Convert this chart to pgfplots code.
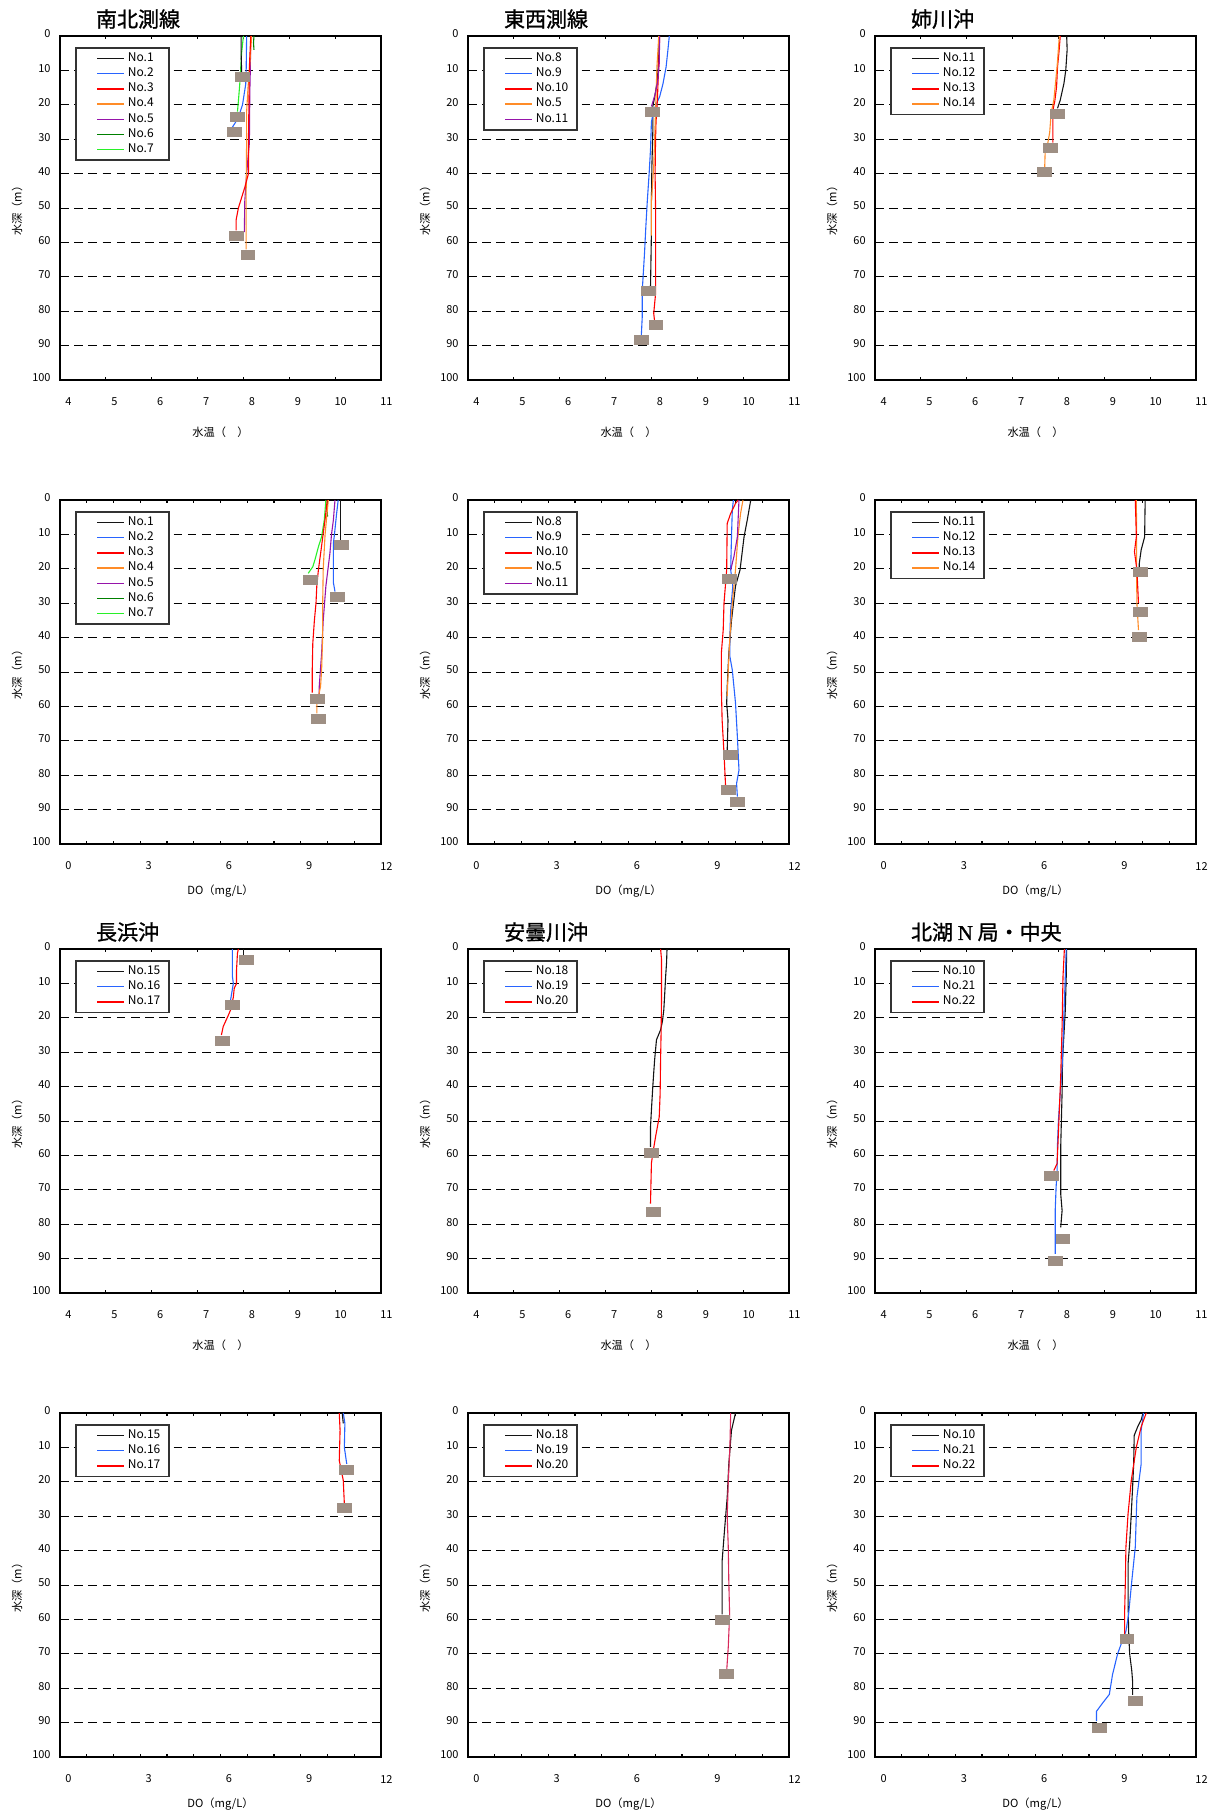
\documentclass[border=0pt]{standalone}
\usepackage{fontspec}
\setmainfont{Noto Sans CJK JP}
\newfontfamily\titlefont[FakeBold=1.2]{Noto Sans CJK JP}
\newfontfamily\serifN[FakeBold=1.2]{Liberation Serif}
\usepackage{pgfplots}
\pgfplotsset{compat=1.18}
\newcommand\fs[1]{\fontsize{#1}{#1}\selectfont}
\definecolor{cblack}{RGB}{20,20,20}
\definecolor{cblue}{RGB}{40,100,255}
\definecolor{cred}{RGB}{255,0,0}
\definecolor{corange}{RGB}{255,140,40}
\definecolor{cpurple}{RGB}{150,20,170}
\definecolor{cgreen}{RGB}{0,128,0}
\definecolor{clime}{RGB}{40,240,40}
\definecolor{ccrimson}{RGB}{215,40,90}
\definecolor{cmark}{RGB}{158,143,132}
\pgfplotsset{
  prof/.style={
    scale only axis, width=160.5pt, height=172pt,
    ymin=0, ymax=100, y dir=reverse, ytick={0,10,...,100},
    ymajorgrids, grid style={dash pattern=on 4.3pt off 2.8pt, line width=0.5pt, black},
    ytick style={draw=none},
    xtick style={black, line width=0.6pt},
    tick align=inside, major tick length=1.6pt, minor tick length=1.6pt,
    axis line style={line width=0.8pt, black},
    clip=false,
    /pgf/number format/assume math mode=true,
    tick label style={font=\fs{5.5}, inner sep=0pt},
    xticklabel style={anchor=east, xshift=6pt, yshift=-11pt},
    yticklabel style={anchor=east, xshift=-4.5pt, yshift=1pt},
    ylabel={水深（m）},
    every axis y label/.style={at={(axis description cs:0,0.5)}, xshift=-21.5pt, rotate=90, anchor=center, font=\fs{5.6}},
    legend cell align=left,
    legend image code/.code={\path (-10.5pt,0pt) (15pt,0pt); \draw[##1, line width=0.7pt] (0pt,0pt) -- (13.5pt,0pt);},
    legend style={at={(axis description cs:0,1)}, anchor=north west, xshift=7.5pt, yshift=-5.5pt,
      draw=black!80, line width=0.8pt, inner xsep=0pt, inner ysep=1.5pt, column sep=0pt, row sep=0pt,
      font=\fs{6},
      nodes={inner sep=0pt, text height=5.2pt, text depth=2.4pt, text width=20.5pt, align=left}},
    every axis plot/.append style={line width=0.55pt},
  },
  temp/.style={prof, xmin=4, xmax=11, xtick={4,...,11}, xlabel={水温（　）},
    every axis x label/.style={at={(axis description cs:0.5,0)}, yshift=-26pt, anchor=center, font=\fs{5.6}}},
  do/.style={prof, xmin=0, xmax=12, xtick={0,3,...,12}, minor xtick={1,2,4,5,7,8,10,11}, xlabel={DO（mg/L）},
    every axis x label/.style={at={(axis description cs:0.5,0)}, yshift=-23.5pt, anchor=center, font=\fs{5.6}}},
  bmark/.style={only marks, color=cmark, mark=square*, mark size=2.25pt, mark options={xscale=1.55, fill=cmark, draw=cmark, line width=0pt}, forget plot},
}
\newcommand\ttl[1]{\node[anchor=west, xshift=14.5pt, yshift=8.5pt, font=\titlefont\fs{10.5}] at (axis description cs:0,1) {#1};}
\begin{document}
\begin{tikzpicture}
\useasboundingbox (0pt,0pt) rectangle (608pt,-906pt);
% ---------------- Row 1: temperature ----------------
\begin{axis}[temp, at={(30pt,-18pt)}, anchor=north west]
\ttl{南北測線}
\addlegendimage{cblack}\addlegendentry{No.1}
\addlegendimage{cblue}\addlegendentry{No.2}
\addlegendimage{cred}\addlegendentry{No.3}
\addlegendimage{corange}\addlegendentry{No.4}
\addlegendimage{cpurple}\addlegendentry{No.5}
\addlegendimage{cgreen}\addlegendentry{No.6}
\addlegendimage{clime}\addlegendentry{No.7}
\addplot[cgreen, forget plot] coordinates {(8.23,0)(8.22,2)(8.23,4)};
\addplot[clime, forget plot] coordinates {(8.00,0)(7.96,5)(7.92,14)(7.89,19)(7.87,22)};
\addplot[cpurple, forget plot] coordinates {(8.16,0)(8.15,10)(8.14,16)(8.13,31)(8.07,40)(8.03,48)(8.02,57)};
\addplot[corange, forget plot] coordinates {(8.18,0)(8.14,8)(8.10,15)(8.07,22)(8.07,30)(8.06,45)(8.06,62)};
\addplot[cred, forget plot] coordinates {(8.16,0)(8.13,9)(8.12,20)(8.11,30)(8.11,40)(8.03,44)(7.89,50)(7.84,53.5)(7.84,56.5)};
\addplot[cblue, forget plot] coordinates {(8.07,0)(8.06,10)(8.05,14)(7.98,20)(7.88,24)(7.76,26.5)};
\addplot[cblack, forget plot] coordinates {(7.95,0)(7.95,5)(7.96,10)(7.97,12)};
\addplot[bmark] coordinates {(7.98,12)(7.87,23.5)(7.80,28)(7.84,58)(8.10,63.7)};
\end{axis}
\begin{axis}[temp, at={(234pt,-18pt)}, anchor=north west]
\ttl{東西測線}
\addlegendimage{cblack}\addlegendentry{No.8}
\addlegendimage{cblue}\addlegendentry{No.9}
\addlegendimage{cred}\addlegendentry{No.10}
\addlegendimage{corange}\addlegendentry{No.5}
\addlegendimage{cpurple}\addlegendentry{No.11}
\addplot[cblack, forget plot] coordinates {(8.17,0)(8.16,6)(8.13,12.8)(8.08,17)(8.03,20.5)(8.03,28)(8.01,38)(8.00,48)(8.00,57)(7.99,65)(7.98,73)};
\addplot[cblue, forget plot] coordinates {(8.39,0)(8.36,4)(8.32,9)(8.25,14)(8.18,17.6)(8.05,21.5)(8.00,25)(7.98,33)(7.95,40)(7.91,48)(7.88,55)(7.85,63)(7.80,74)(7.80,81.6)(7.78,87)};
\addplot[cred, forget plot] coordinates {(8.18,0)(8.16,8)(8.13,18.6)(8.10,25)(8.09,30)(8.08,40)(8.09,50)(8.09,60)(8.09,75)(8.05,80.6)(8.07,83)};
\addplot[corange, forget plot] coordinates {(8.16,0)(8.12,9)(8.09,21.5)(8.07,30)(8.05,38)(8.02,44)(8.00,48)(8.00,58)};
\addplot[cpurple, forget plot] coordinates {(8.18,0)(8.17,8)(8.14,12.8)(8.08,17)(8.00,20.5)};
\addplot[bmark] coordinates {(8.02,22)(7.94,74)(8.10,84)(7.78,88.4)};
\end{axis}
\begin{axis}[temp, at={(437.5pt,-18pt)}, anchor=north west]
\ttl{姉川沖}
\addlegendimage{cblack}\addlegendentry{No.11}
\addlegendimage{cblue}\addlegendentry{No.12}
\addlegendimage{cred}\addlegendentry{No.13}
\addlegendimage{corange}\addlegendentry{No.14}
\addplot[cblack, forget plot] coordinates {(8.18,0)(8.19,4)(8.16,10)(8.12,13.8)(8.04,18.6)(7.98,21)};
\addplot[cred, forget plot] coordinates {(8.04,0)(8.01,5)(7.98,9)(7.96,14.7)(7.92,19)(7.88,21.5)(7.88,31)};
\addplot[corange, forget plot] coordinates {(8.02,0)(7.97,9)(7.90,18.6)(7.84,22.5)(7.81,28)(7.77,31)(7.71,34)(7.70,38.5)};
\addplot[bmark] coordinates {(7.99,22.6)(7.82,32.6)(7.69,39.6)};
\end{axis}
% ---------------- Row 2: DO ----------------
\begin{axis}[do, at={(30pt,-250pt)}, anchor=north west]
\addlegendimage{cblack}\addlegendentry{No.1}
\addlegendimage{cblue}\addlegendentry{No.2}
\addlegendimage{cred}\addlegendentry{No.3}
\addlegendimage{corange}\addlegendentry{No.4}
\addlegendimage{cpurple}\addlegendentry{No.5}
\addlegendimage{cgreen}\addlegendentry{No.6}
\addlegendimage{clime}\addlegendentry{No.7}
\addplot[cgreen, forget plot] coordinates {(10.00,0)(9.99,2.5)(10.00,4.8)};
\addplot[clime, forget plot] coordinates {(9.94,0)(9.88,5.8)(9.78,10.7)(9.66,13.6)(9.53,17.4)(9.45,19.4)(9.28,21.3)};
\addplot[cpurple, forget plot] coordinates {(10.28,0)(10.22,5.8)(10.15,10)(10.09,15.5)(9.94,25)(9.84,35)(9.78,44.6)(9.69,54.3)(9.69,57)};
\addplot[corange, forget plot] coordinates {(10.03,0)(9.97,5)(9.91,10)(9.84,20)(9.82,30)(9.82,39.7)(9.78,49.4)(9.74,54.3)(9.60,59)(9.60,62)};
\addplot[cred, forget plot] coordinates {(9.99,0)(9.92,5)(9.84,9.7)(9.76,14.5)(9.66,20.3)(9.60,25)(9.57,30)(9.51,35)(9.45,41.7)(9.43,49.4)(9.43,56)};
\addplot[cblue, forget plot] coordinates {(10.40,0)(10.34,4)(10.26,10)(10.22,12.6)(10.22,24)(10.28,26.6)};
\addplot[cblack, forget plot] coordinates {(10.47,0)(10.47,12)};
\addplot[bmark] coordinates {(10.53,13)(9.35,23.3)(10.38,28.3)(9.63,57.8)(9.66,63.6)};
\end{axis}
\begin{axis}[do, at={(234pt,-250pt)}, anchor=north west]
\addlegendimage{cblack}\addlegendentry{No.8}
\addlegendimage{cblue}\addlegendentry{No.9}
\addlegendimage{cred}\addlegendentry{No.10}
\addlegendimage{corange}\addlegendentry{No.5}
\addlegendimage{cpurple}\addlegendentry{No.11}
\addplot[cblack, forget plot] coordinates {(10.57,0)(10.44,5.8)(10.32,10.7)(10.17,20.3)(10.00,25)(9.85,35)(9.75,44.6)(9.69,54.3)(9.67,59)(9.72,64)(9.69,72.7)};
\addplot[cblue, forget plot] coordinates {(9.92,0)(9.88,3)(9.85,10.7)(9.82,20.3)(9.90,25)(9.82,32)(9.79,39.7)(9.79,45.5)(9.88,49.4)(10.00,59)(10.07,68.8)(10.13,78.5)(10.04,82.4)(10.07,86.2)};
\addplot[cred, forget plot] coordinates {(10.10,0)(10.00,1)(9.82,3.9)(9.69,6.8)(9.67,20.3)(9.57,30)(9.54,37.8)(9.47,44.6)(9.47,54.3)(9.50,64)(9.57,73.6)(9.63,83.3)};
\addplot[corange, forget plot] coordinates {(10.28,0)(10.19,3.9)(10.09,10.7)(10.00,20.3)(9.88,30)(9.79,39.7)(9.73,49.4)(9.69,57)};
\addplot[cpurple, forget plot] coordinates {(10.13,0)(10.07,10.7)(9.94,16.5)(9.82,20.3)};
\addplot[bmark] coordinates {(9.79,23)(9.82,74.1)(9.73,84.3)(10.07,87.7)};
\end{axis}
\begin{axis}[do, at={(437.5pt,-250pt)}, anchor=north west]
\addlegendimage{cblack}\addlegendentry{No.11}
\addlegendimage{cblue}\addlegendentry{No.12}
\addlegendimage{cred}\addlegendentry{No.13}
\addlegendimage{corange}\addlegendentry{No.14}
\addplot[cblack, forget plot] coordinates {(10.10,0)(10.09,5)(10.08,10.7)(9.95,14.5)(9.88,18.4)(9.88,20.3)};
\addplot[corange, forget plot] coordinates {(9.77,0)(9.78,10.7)(9.78,20.3)(9.79,30)(9.85,37.8)};
\addplot[cred, forget plot] coordinates {(9.73,0)(9.75,5)(9.77,10.7)(9.70,15)(9.79,20.3)(9.82,25)(9.85,30)};
\addplot[bmark] coordinates {(9.92,20.8)(9.92,32.5)(9.88,39.7)};
\end{axis}
% ---------------- Row 3: temperature ----------------
\begin{axis}[temp, at={(30pt,-474.5pt)}, anchor=north west]
\ttl{長浜沖}
\addlegendimage{cblack}\addlegendentry{No.15}
\addlegendimage{cblue}\addlegendentry{No.16}
\addlegendimage{cred}\addlegendentry{No.17}
\addplot[cblack, forget plot] coordinates {(8.01,0)(8.01,2.5)};
\addplot[cblue, forget plot] coordinates {(7.76,0)(7.76,8)(7.78,10)(7.72,14.8)};
\addplot[cred, forget plot] coordinates {(7.89,0)(7.87,1.2)(7.85,6)(7.85,10)(7.80,11.4)(7.78,14)(7.72,17.7)(7.66,19.6)(7.56,22.5)(7.52,25)};
\addplot[bmark] coordinates {(8.06,3.3)(7.76,16.2)(7.55,26.6)};
\end{axis}
\begin{axis}[temp, at={(234pt,-474.5pt)}, anchor=north west]
\ttl{安曇川沖}
\addlegendimage{cblack}\addlegendentry{No.18}
\addlegendimage{cblue}\addlegendentry{No.19}
\addlegendimage{cred}\addlegendentry{No.20}
\addplot[cblack, forget plot] coordinates {(8.34,0)(8.33,4)(8.31,8)(8.29,13)(8.27,17.7)(8.24,21)(8.20,23.5)(8.11,26.4)(8.07,32.2)(8.05,36)(8.03,40)(8.00,46.8)(7.98,51.7)(7.98,57.5)};
\addplot[cred, forget plot] coordinates {(8.20,0)(8.22,3)(8.22,14.5)(8.21,25)(8.20,32)(8.19,42)(8.17,48.8)(8.09,54.6)(8.03,59.4)(8.00,62.3)(7.99,68)(7.98,74)};
\addplot[bmark] coordinates {(8.00,59.4)(8.04,76.5)};
\end{axis}
\begin{axis}[temp, at={(437.5pt,-474.5pt)}, anchor=north west]
\node[anchor=west, xshift=14.5pt, yshift=8.5pt, font=\titlefont\fs{10.5}] at (axis description cs:0,1) {北湖 {\serifN N} 局・中央};
\addlegendimage{cblack}\addlegendentry{No.10}
\addlegendimage{cblue}\addlegendentry{No.21}
\addlegendimage{cred}\addlegendentry{No.22}
\addplot[cblack, forget plot] coordinates {(8.18,0)(8.17,8)(8.15,17.7)(8.13,22.5)(8.09,32)(8.08,41.7)(8.05,57.5)(8.05,71.2)(8.08,76)(8.05,80.9)};
\addplot[cblue, forget plot] coordinates {(8.17,0)(8.15,8)(8.11,22.5)(8.09,32)(8.05,40)(8.00,49.8)(7.98,56.6)(7.97,65.3)(7.95,69)(7.93,76)(7.93,88.6)};
\addplot[cred, forget plot] coordinates {(8.13,0)(8.10,8)(8.08,22.5)(8.05,37)(8.02,46.8)(7.99,56.6)(7.97,62.4)(7.90,64.4)};
\addplot[bmark] coordinates {(7.84,66)(8.10,84.3)(7.93,90.7)};
\end{axis}
% ---------------- Row 4: DO ----------------
\begin{axis}[do, at={(30pt,-706.5pt)}, anchor=north west]
\addlegendimage{cblack}\addlegendentry{No.15}
\addlegendimage{cblue}\addlegendentry{No.16}
\addlegendimage{cred}\addlegendentry{No.17}
\addplot[cred, forget plot] coordinates {(10.44,0)(10.47,5)(10.44,13.8)(10.49,15.7)(10.59,19.6)(10.63,26.4)};
\addplot[cblue, forget plot] coordinates {(10.59,0)(10.65,3)(10.63,10)(10.72,14.8)};
\addplot[cblack, forget plot] coordinates {(10.55,0)(10.59,3)};
\addplot[bmark] coordinates {(10.72,16.7)(10.63,27.7)};
\end{axis}
\begin{axis}[do, at={(234pt,-706.5pt)}, anchor=north west]
\addlegendimage{cblack}\addlegendentry{No.18}
\addlegendimage{cblue}\addlegendentry{No.19}
\addlegendimage{cred}\addlegendentry{No.20}
\addplot[cblack, forget plot] coordinates {(10.00,0)(9.85,5)(9.75,14.8)(9.69,24.5)(9.59,34)(9.50,43)(9.50,58.5)};
\addplot[ccrimson, forget plot] coordinates {(9.82,0)(9.79,10)(9.73,20)(9.69,30)(9.73,39)(9.75,49)(9.78,58.5)(9.73,68)(9.67,75)};
\addplot[bmark] coordinates {(9.53,60.3)(9.66,76)};
\end{axis}
\begin{axis}[do, at={(437.5pt,-706.5pt)}, anchor=north west]
\addlegendimage{cblack}\addlegendentry{No.10}
\addlegendimage{cblue}\addlegendentry{No.21}
\addlegendimage{cred}\addlegendentry{No.22}
\addplot[cblack, forget plot] coordinates {(10.02,0)(9.95,2)(9.82,4)(9.69,6.5)(9.67,14.8)(9.63,21.6)(9.58,29.3)(9.52,38)(9.46,43.9)(9.46,53.6)(9.48,63.3)(9.52,70)(9.60,75)(9.63,78)(9.63,81.9)};
\addplot[cblue, forget plot] coordinates {(10.04,0)(9.95,5)(9.95,14.8)(9.79,24.5)(9.73,39)(9.60,48.8)(9.48,58.5)(9.38,63.4)(9.20,67.2)(9.07,70)(8.88,76)(8.76,81.8)(8.51,84.3)(8.28,86.7)(8.28,89.6)};
\addplot[cred, forget plot] coordinates {(10.14,0)(9.95,4)(9.77,9.9)(9.58,19.6)(9.46,29.3)(9.38,39)(9.36,48.8)(9.33,58.5)(9.33,64.3)};
\addplot[bmark] coordinates {(9.42,65.6)(9.73,83.6)(8.38,91.5)};
\end{axis}
\end{tikzpicture}
\end{document}
